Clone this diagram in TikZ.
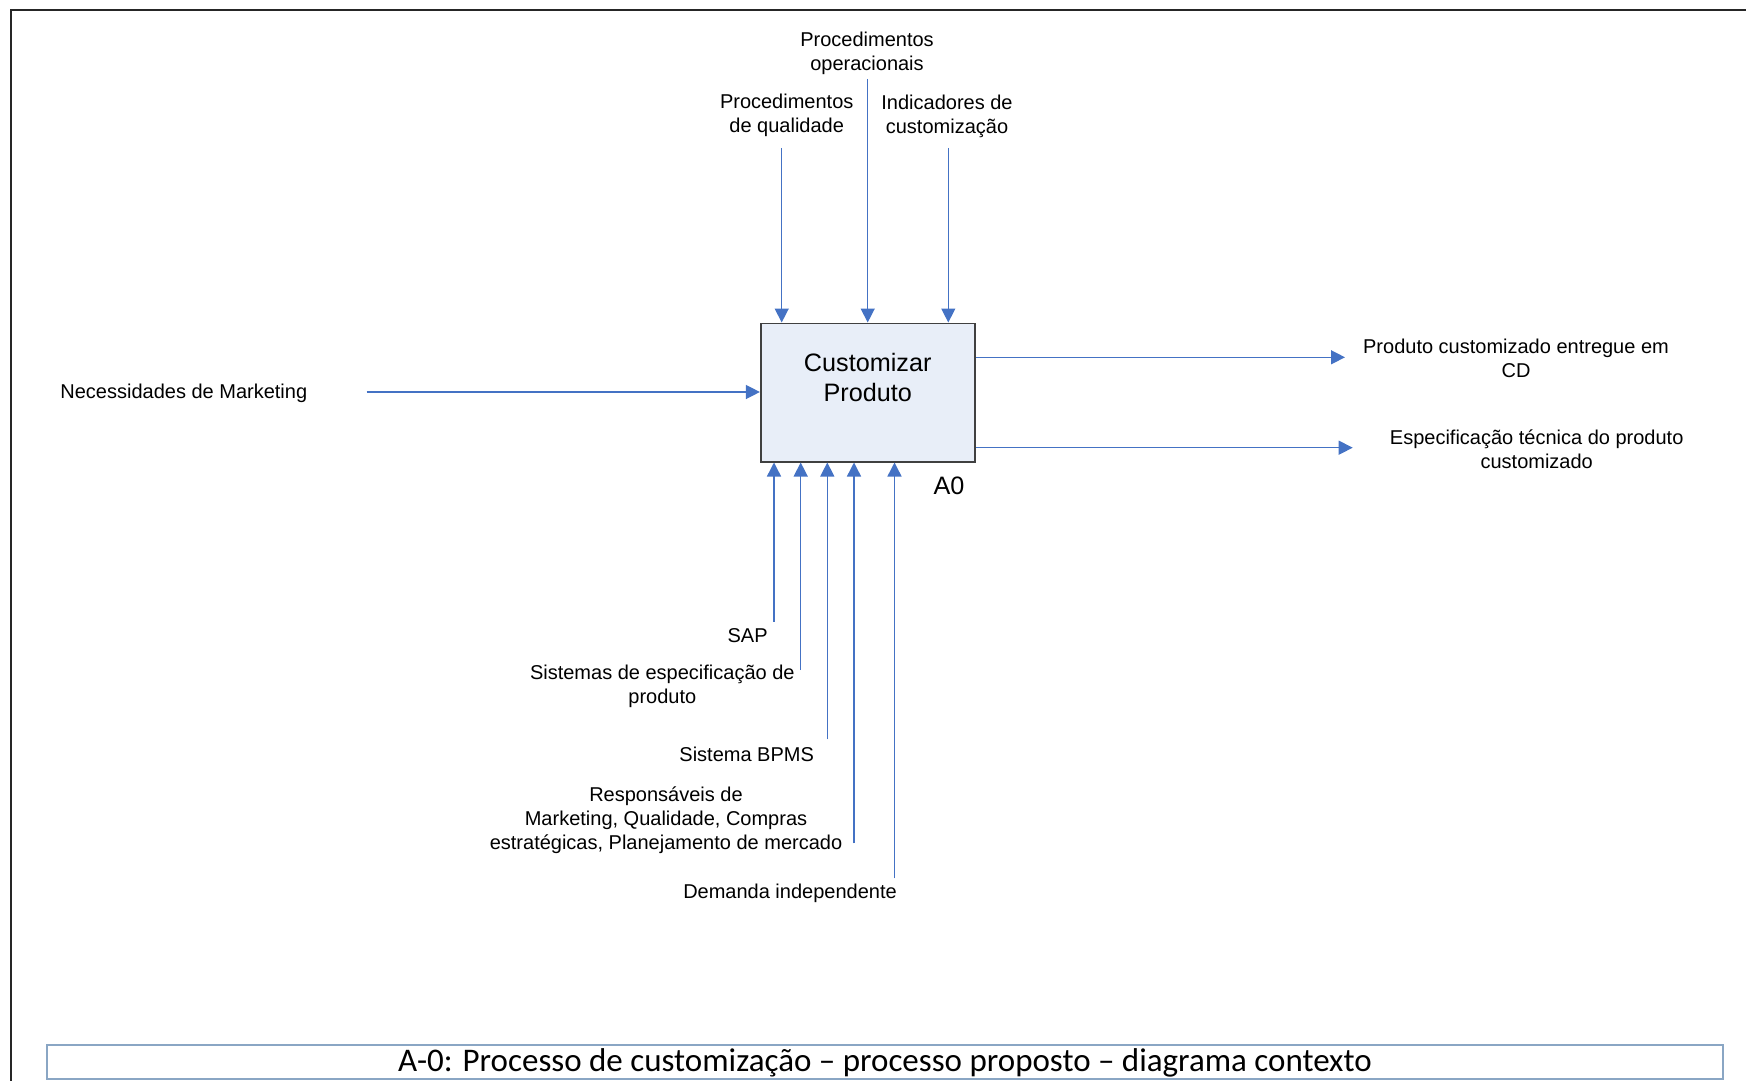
\documentclass[tikz,border=0pt]{standalone}
\usepackage{fontspec}
\setmainfont{Liberation Sans}
\newfontfamily\capfont{Carlito}
\usetikzlibrary{arrows.meta}
\definecolor{flowblue}{HTML}{4472C4}
\definecolor{boxfill}{HTML}{E8EEF8}
\definecolor{boxline}{HTML}{404040}
\definecolor{capline}{HTML}{8AA6C4}
\begin{document}
\begin{tikzpicture}[x=0.5pt,y=-0.5pt,
  flow/.style={draw=flowblue, line width=0.7pt, -{Triangle[length=7pt,width=7pt]}},
  lbl/.style={font=\fontsize{10}{11.9}\selectfont, align=center, inner sep=0pt},
  boxtxt/.style={font=\fontsize{12.6}{15}\selectfont, align=center, inner sep=0pt},
  actbox/.style={draw=boxline, fill=boxfill, line width=0.8pt, minimum width=107.2pt, minimum height=69.2pt, inner sep=0pt}
]
\useasboundingbox (0,0) rectangle (1746,1081);

% page frame
\draw[line width=0.8pt, black!85] (11,1081) -- (11,10) -- (1746,10);

% activity box
\node[actbox] (box) at (867.9,392.5) {};
\node[boxtxt] (boxname) at (867.7,377.5) {Customizar\\Produto};
\node[boxtxt] (boxid) at (949,486) {A0};

% controls (top)
\node[lbl] (ctlq) at (786.7,115) {Procedimentos\\de qualidade};
\node[lbl] (ctlo) at (867,53) {Procedimentos\\operacionais};
\node[lbl] (ctli) at (947,116.5) {Indicadores de\\customização};
\coordinate (ctlqend) at (781.7,148);
\coordinate (ctloend) at (867.7,79);
\coordinate (ctliend) at (948.3,148);
\draw[flow] (ctlqend) -- (ctlqend |- box.north);
\draw[flow] (ctloend) -- (ctloend |- box.north);
\draw[flow] (ctliend) -- (ctliend |- box.north);

% input (left)
\node[lbl, anchor=west] (inp) at (60,393.7) {Necessidades de Marketing};
\coordinate (inpend) at (366.7,392);
\draw[flow] (inpend) -- (box.west |- inpend);

% outputs (right)
\node[lbl] (out1) at (1516,358.5) {Produto customizado entregue em\\CD};
\node[lbl] (out2) at (1536.7,449) {Especificação técnica do produto\\customizado};
\coordinate (out1end) at (1345,357.3);
\coordinate (out2end) at (1352.7,447.7);
\draw[flow] (box.east |- out1end) -- (out1end);
\draw[flow] (box.east |- out2end) -- (out2end);

% mechanisms (bottom)
\node[lbl, anchor=east] (mec1) at (768,635.5) {SAP};
\node[lbl] (mec2) at (662.3,686.5) {Sistemas de especificação de\\produto};
\node[lbl] (mec3) at (746.7,754) {Sistema BPMS};
\node[lbl] (mec4) at (666,820) {Responsáveis de\\Marketing, Qualidade, Compras\\estratégicas, Planejamento de mercado};
\node[lbl] (mec5) at (790,893) {Demanda independente};
\coordinate (mec1end) at (774,621.7);
\coordinate (mec2end) at (800.7,670);
\coordinate (mec3end) at (827.3,739.3);
\coordinate (mec4end) at (854,843.3);
\coordinate (mec5end) at (894.5,878.3);
\foreach \m in {mec1end,mec2end,mec3end,mec4end,mec5end}
  \draw[flow] (\m) -- (\m |- box.south);

% caption
\node[draw=capline, line width=1.2pt, minimum width=838pt, minimum height=17pt, inner sep=0pt] (capbox) at (885,1062) {};
\node[font=\capfont\fontsize{16.5}{18}\selectfont, inner sep=0pt] (captxt) at (885,1063) {A-0: Processo de customização – processo proposto – diagrama contexto};
\end{tikzpicture}
\end{document}
